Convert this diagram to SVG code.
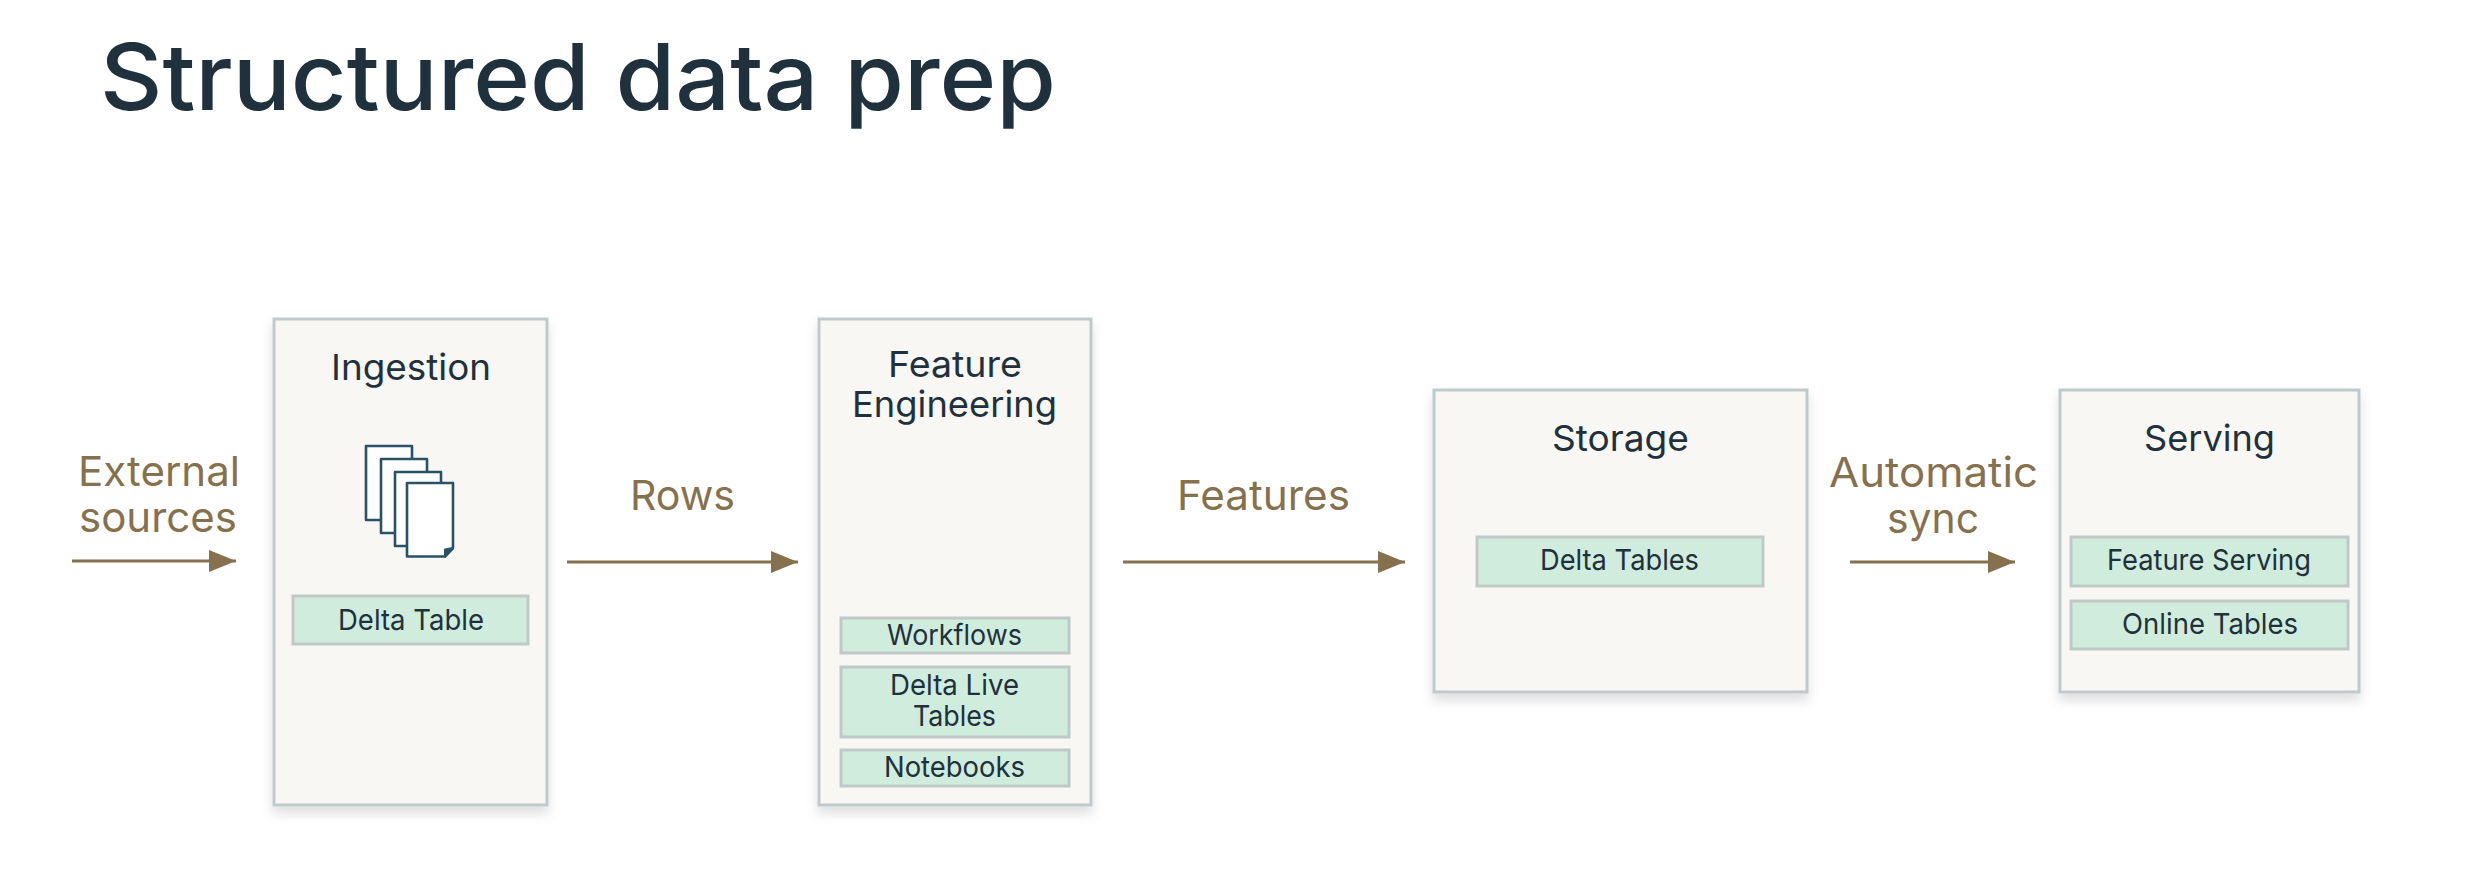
<svg xmlns="http://www.w3.org/2000/svg" width="2488" height="890" viewBox="0 0 2488 890">
<style>
text{font-family:"Inter","Liberation Sans",sans-serif}
.title{font-size:92px;fill:#1f313c;font-weight:500}
.head{font-size:36px;fill:#1f313c;font-weight:400}
.sub{font-size:29px;fill:#1f313c}
.flow{font-size:41px;fill:#86714f;font-weight:400}
.box{fill:#f8f7f4;stroke:#c0c9cc;stroke-width:3;filter:url(#sh)}
.chip{fill:#cfecdd;stroke:#bfc9c8;stroke-width:3}
.page{fill:#fff;stroke:#2a5266;stroke-width:2.6;stroke-linejoin:round}
.conn{stroke:#86714f;stroke-width:3;fill:none;marker-end:url(#arrow)}
</style>
<defs>
<filter id="sh" x="-15%" y="-10%" width="130%" height="125%"><feDropShadow dx="0" dy="7" stdDeviation="6" flood-color="#000" flood-opacity="0.13"/></filter>
<marker id="arrow" markerUnits="userSpaceOnUse" markerWidth="28" markerHeight="22" refX="27" refY="11" orient="auto"><path d="M0,0L27,11L0,22Z" fill="#86714f"/></marker>
</defs>
<rect width="2488" height="890" fill="#fff"/>
<text class="title" x="100" y="110" textLength="956" lengthAdjust="spacingAndGlyphs">Structured data prep</text>
<g id="connectors">
<line class="conn" x1="72" y1="561" x2="236" y2="561"/>
<line class="conn" x1="567" y1="562" x2="798" y2="562"/>
<line class="conn" x1="1123" y1="562" x2="1405" y2="562"/>
<line class="conn" x1="1850" y1="562" x2="2015" y2="562"/>
</g>
<g id="labels">
<text class="flow" x="78" y="486" textLength="162" lengthAdjust="spacingAndGlyphs">External</text>
<text class="flow" x="79" y="532" textLength="158" lengthAdjust="spacingAndGlyphs">sources</text>
<text class="flow" x="630" y="510" textLength="105" lengthAdjust="spacingAndGlyphs">Rows</text>
<text class="flow" x="1177" y="510" textLength="173" lengthAdjust="spacingAndGlyphs">Features</text>
<text class="flow" x="1829" y="487" textLength="209" lengthAdjust="spacingAndGlyphs">Automatic</text>
<text class="flow" x="1887" y="533" textLength="92" lengthAdjust="spacingAndGlyphs">sync</text>
</g>
<g id="ingestion">
<rect class="box" x="274" y="319" width="273" height="486"/>
<text class="head" x="331" y="380" textLength="160" lengthAdjust="spacingAndGlyphs">Ingestion</text>
<rect class="page" x="366" y="446" width="46" height="74"/>
<rect class="page" x="381" y="459" width="46" height="74"/>
<rect class="page" x="395" y="472" width="46" height="74"/>
<path class="page" d="M407,483H453V548L445,556.5H407Z"/>
<path d="M445,556.5V549.500L453,548Z" fill="#2a5266" stroke="#2a5266" stroke-width="2" stroke-linejoin="round"/>
<rect class="chip" x="293" y="596" width="235" height="48"/>
<text class="sub" x="338" y="630" textLength="146" lengthAdjust="spacingAndGlyphs">Delta Table</text>
</g>
<g id="feature-engineering">
<rect class="box" x="819" y="319" width="272" height="486"/>
<text class="head" x="888" y="377" textLength="134" lengthAdjust="spacingAndGlyphs">Feature</text>
<text class="head" x="852" y="417" textLength="205" lengthAdjust="spacingAndGlyphs">Engineering</text>
<rect class="chip" x="841" y="618" width="228" height="35"/>
<text class="sub" x="887" y="645" textLength="135" lengthAdjust="spacingAndGlyphs">Workflows</text>
<rect class="chip" x="841" y="667" width="228" height="70"/>
<text class="sub" x="890" y="695" textLength="129" lengthAdjust="spacingAndGlyphs">Delta Live</text>
<text class="sub" x="913" y="726" textLength="83" lengthAdjust="spacingAndGlyphs">Tables</text>
<rect class="chip" x="841" y="750" width="228" height="36"/>
<text class="sub" x="884" y="777" textLength="141" lengthAdjust="spacingAndGlyphs">Notebooks</text>
</g>
<g id="storage">
<rect class="box" x="1434" y="390" width="373" height="302"/>
<text class="head" x="1552" y="451" textLength="137" lengthAdjust="spacingAndGlyphs">Storage</text>
<rect class="chip" x="1477" y="537" width="286" height="49"/>
<text class="sub" x="1540" y="570" textLength="159" lengthAdjust="spacingAndGlyphs">Delta Tables</text>
</g>
<g id="serving">
<rect class="box" x="2060" y="390" width="299" height="302"/>
<text class="head" x="2144" y="451" textLength="131" lengthAdjust="spacingAndGlyphs">Serving</text>
<rect class="chip" x="2071" y="537" width="277" height="49"/>
<text class="sub" x="2107" y="570" textLength="204" lengthAdjust="spacingAndGlyphs">Feature Serving</text>
<rect class="chip" x="2071" y="601" width="277" height="48"/>
<text class="sub" x="2122" y="634" textLength="176" lengthAdjust="spacingAndGlyphs">Online Tables</text>
</g>
</svg>
